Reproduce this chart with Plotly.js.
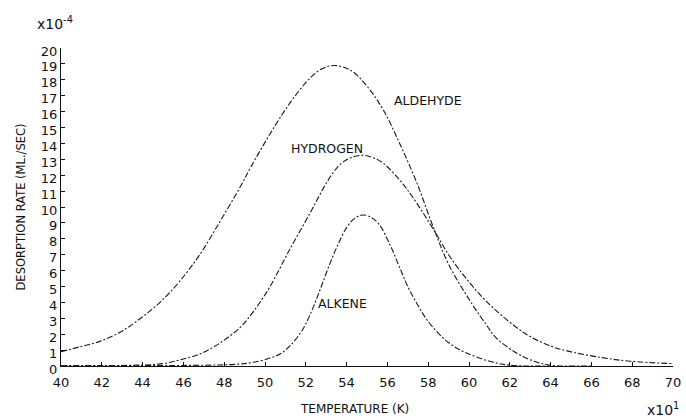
<!DOCTYPE html>
<html>
<head>
<meta charset="utf-8">
<script src="https://cdn.plot.ly/plotly-3.0.1.min.js"></script>
<style>html,body{margin:0;padding:0;background:#fff;}#chart{width:686px;height:420px;}</style>
</head>
<body>
<div id="chart"></div>
<script>
// Temperature in units of 10 K; desorption rate in units of 1e-4 mL/sec
const aldehydeT = [40, 40.9, 41.9, 43, 43.9, 44.85, 45.8, 46.8, 47.8, 48.8, 49.3, 50.25, 51.2, 52.2, 52.8, 53.4, 54.2, 55.0, 55.8, 56.6, 57.45, 58.2, 59.0, 60.15, 60.9, 61.3, 62.35, 63.2, 64.0, 66.0];
const aldehydeV = [0.9, 1.2, 1.55, 2.2, 3.0, 4.0, 5.3, 7.0, 9.1, 11.3, 12.5, 14.6, 16.5, 18.1, 18.7, 18.9, 18.6, 17.6, 16.1, 14.0, 11.5, 8.9, 6.4, 3.9, 2.5, 1.8, 0.8, 0.3, 0.05, 0.0];

const hydrogenT = [40, 42, 44, 45, 45.8, 46.8, 47.8, 48.8, 49.3, 49.75, 50.25, 51.2, 52.2, 52.7, 53.2, 53.7, 54.2, 54.8, 55.3, 55.8, 56.6, 57.25, 58.3, 59.0, 59.8, 60.9, 62.25, 63.0, 64.0, 64.8, 66.4, 67.9, 70];
const hydrogenV = [0.02, 0.03, 0.06, 0.15, 0.38, 0.75, 1.45, 2.45, 3.2, 4.0, 5.0, 7.3, 9.6, 10.8, 11.9, 12.7, 13.1, 13.25, 13.1, 12.75, 11.7, 10.6, 8.5, 7.0, 5.6, 4.0, 2.5, 1.85, 1.25, 0.95, 0.55, 0.3, 0.15];

const alkeneT = [40, 44, 47, 48.5, 49.3, 50.25, 50.8, 51.25, 51.8, 52.2, 52.7, 53.2, 53.6, 54.0, 54.4, 54.8, 55.2, 55.6, 56.1, 56.6, 57.0, 57.5, 58.0, 58.7, 59.3, 59.9, 61.0, 62.0, 64.0];
const alkeneV = [0.0, 0.02, 0.05, 0.1, 0.2, 0.5, 0.8, 1.3, 2.2, 3.2, 4.8, 6.5, 7.7, 8.7, 9.3, 9.5, 9.35, 8.9, 7.7, 6.2, 5.0, 3.8, 2.8, 1.8, 1.2, 0.8, 0.3, 0.05, 0.0];

const xTicks = [40, 42, 44, 46, 48, 50, 52, 54, 56, 58, 60, 62, 64, 66, 68, 70];
const yTicks = [0, 1, 2, 3, 4, 5, 6, 7, 8, 9, 10, 11, 12, 13, 14, 15, 16, 17, 18, 19, 20];

const seriesNames = ["ALDEHYDE", "HYDROGEN", "ALKENE"];
const labelT = [58.0, 53.05, 53.8];
const labelV = [16.7, 13.7, 3.95];

const FONT = "'DejaVu Sans', sans-serif";
const lineStyle = {color: '#1a1a1a', width: 1.1, dash: '6px,2px,2px,2px', shape: 'spline', smoothing: 1};

const traces = [
  {x: aldehydeT, y: aldehydeV, name: seriesNames[0]},
  {x: hydrogenT, y: hydrogenV, name: seriesNames[1]},
  {x: alkeneT, y: alkeneV, name: seriesNames[2]}
].map(t => Object.assign(t, {type: 'scatter', mode: 'lines', line: lineStyle, hoverinfo: 'x+y+name'}));

const annotations = seriesNames.map((n, i) => ({
  x: labelT[i], y: labelV[i], xref: 'x', yref: 'y', text: n, showarrow: false,
  font: {family: FONT, size: 12.5, color: '#111'}
}));
annotations.push({
  xref: 'paper', yref: 'paper', x: -0.043, y: 1.078, xanchor: 'left', yanchor: 'middle',
  text: 'x10<sup>-4</sup>', showarrow: false, font: {family: FONT, size: 14, color: '#111'}
});
annotations.push({
  xref: 'paper', yref: 'paper', x: 0.954, y: -0.135, xanchor: 'left', yanchor: 'middle',
  text: 'x10<sup>1</sup>', showarrow: false, font: {family: FONT, size: 14, color: '#111'}
});
annotations.push({
  xref: 'paper', yref: 'paper', x: 0.48, y: -0.135, xanchor: 'center', yanchor: 'middle',
  text: 'TEMPERATURE (K)', showarrow: false, font: {family: FONT, size: 12, color: '#111'}
});

const layout = {
  width: 686, height: 420,
  margin: {l: 61, r: 13, t: 48, b: 54},
  paper_bgcolor: '#fff', plot_bgcolor: '#fff',
  showlegend: false,
  font: {family: FONT, size: 13, color: '#111'},
  xaxis: {
    range: [40, 70], tickvals: xTicks, ticktext: xTicks.map(String),
    showgrid: false, zeroline: false, showline: true, linecolor: '#111', linewidth: 1,
    ticks: 'inside', ticklen: 4, tickcolor: '#111', ticklabelstandoff: 4,
    tickfont: {family: FONT, size: 13, color: '#111'}
  },
  yaxis: {
    range: [0, 20], tickvals: yTicks, ticktext: yTicks.map(String),
    showgrid: false, zeroline: false, showline: true, linecolor: '#111', linewidth: 1,
    ticks: 'inside', ticklen: 4, tickcolor: '#111', ticklabelshift: 3,
    tickfont: {family: FONT, size: 13, color: '#111'},
    title: {text: 'DESORPTION RATE (ML./SEC)', font: {family: FONT, size: 11.5, color: '#111'}, standoff: 12}
  },
  annotations: annotations
};

Plotly.newPlot('chart', traces, layout, {displayModeBar: false, staticPlot: true});
</script>
</body>
</html>
